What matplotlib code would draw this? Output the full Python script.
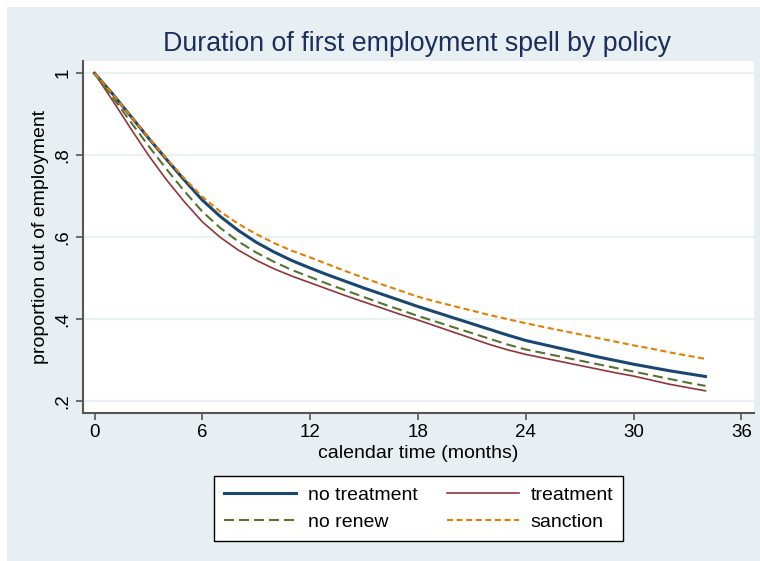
import matplotlib
matplotlib.use("Agg")
import matplotlib.pyplot as plt
from matplotlib.patches import Rectangle

plt.rcParams['font.family'] = ['Liberation Sans', 'DejaVu Sans']

# survival curves (monthly)
months = list(range(0, 35))
no_treatment = [1.000, 0.950, 0.896, 0.842, 0.790, 0.739, 0.690, 0.650, 0.616, 0.587,
                0.563, 0.542, 0.524, 0.507, 0.491, 0.475, 0.460, 0.445, 0.430, 0.416,
                0.402, 0.388, 0.374, 0.360, 0.347, 0.337, 0.327, 0.317, 0.307, 0.298,
                0.289, 0.281, 0.273, 0.266, 0.259]
treatment = [1.000, 0.934, 0.866, 0.800, 0.740, 0.686, 0.637, 0.599, 0.568, 0.543,
             0.522, 0.504, 0.488, 0.472, 0.456, 0.441, 0.426, 0.411, 0.397, 0.382,
             0.367, 0.352, 0.337, 0.324, 0.313, 0.304, 0.295, 0.286, 0.277, 0.268,
             0.260, 0.250, 0.240, 0.232, 0.224]
no_renew = [1.000, 0.942, 0.882, 0.823, 0.766, 0.712, 0.662, 0.622, 0.589, 0.562,
            0.539, 0.519, 0.502, 0.485, 0.469, 0.453, 0.437, 0.422, 0.407, 0.393,
            0.379, 0.365, 0.351, 0.337, 0.325, 0.316, 0.307, 0.298, 0.289, 0.280,
            0.271, 0.262, 0.253, 0.244, 0.236]
sanction = [1.000, 0.950, 0.896, 0.843, 0.792, 0.743, 0.698, 0.662, 0.632, 0.607,
            0.585, 0.566, 0.550, 0.533, 0.516, 0.500, 0.484, 0.469, 0.454, 0.442,
            0.431, 0.420, 0.409, 0.399, 0.389, 0.380, 0.371, 0.362, 0.353, 0.344,
            0.335, 0.327, 0.318, 0.310, 0.302]

xticks = [0, 6, 12, 18, 24, 30, 36]
yticks = [0.2, 0.4, 0.6, 0.8, 1.0]
ytick_labels = ['.2', '.4', '.6', '.8', '1']

fig = plt.figure(figsize=(7.6, 5.61), dpi=100)
fig.patch.set_facecolor('white')
# stata-like outer background (the strip on top is page white)
fig.patches.append(Rectangle((7 / 760, 0), 1, 554 / 561, transform=fig.transFigure,
                             facecolor='#e8eff2', edgecolor='none', zorder=-10))

ax = fig.add_axes([83 / 760, 1 - 412.5 / 561, (754 - 83) / 760, (412.5 - 61) / 561])
ax.set_facecolor('white')

l1, = ax.plot(months, no_treatment, color='#1a476f', lw=2.2, label='no treatment', zorder=3)
l2, = ax.plot(months, treatment, color='#90353b', lw=1.2, label='treatment', zorder=3)
l3, = ax.plot(months, no_renew, color='#55752f', lw=1.5, dashes=(4.8, 2.4), label='no renew', zorder=3)
l4, = ax.plot(months, sanction, color='#e37e00', lw=1.5, dashes=(2.9, 1.7), label='sanction', zorder=3)

ax.set_xlim(-0.64, 36.7)
ax.set_ylim(0.171, 1.030)
ax.set_xticks(xticks)
ax.set_yticks(yticks)
ax.set_yticklabels(ytick_labels, rotation=90, va='center')
ax.grid(axis='y', color='#eaf1f3', lw=1.6)
ax.set_axisbelow(True)

for s in ['top', 'right']:
    ax.spines[s].set_visible(False)
for s in ['left', 'bottom']:
    ax.spines[s].set_color('#555555')
    ax.spines[s].set_linewidth(1.5)
ax.tick_params(colors='#555555', labelcolor='black', length=5, width=1.2, labelsize=13.5)

ax.set_xlabel('calendar time (months)', fontsize=14, labelpad=2.5)
ax.set_ylabel('proportion out of employment', fontsize=14, labelpad=4)
fig.text(417 / 760, 1 - 44 / 561, 'Duration of first employment spell by policy',
         ha='center', va='center', fontsize=19.3, color='#1e2e5c')

# column-major order so rows read: no treatment | treatment, no renew | sanction
leg = fig.legend([l1, l3, l2, l4], ['no treatment', 'no renew', 'treatment', 'sanction'],
                 loc='center', bbox_to_anchor=(418.5 / 760, 1 - 508.5 / 561), ncol=2,
                 fontsize=14, handlelength=3.7, handletextpad=0.6, columnspacing=1.5,
                 labelspacing=0.5, borderpad=0.5, fancybox=False, framealpha=1,
                 edgecolor='black')
leg.get_frame().set_linewidth(1.0)

fig.savefig('out.png', dpi=100, facecolor=fig.get_facecolor())
